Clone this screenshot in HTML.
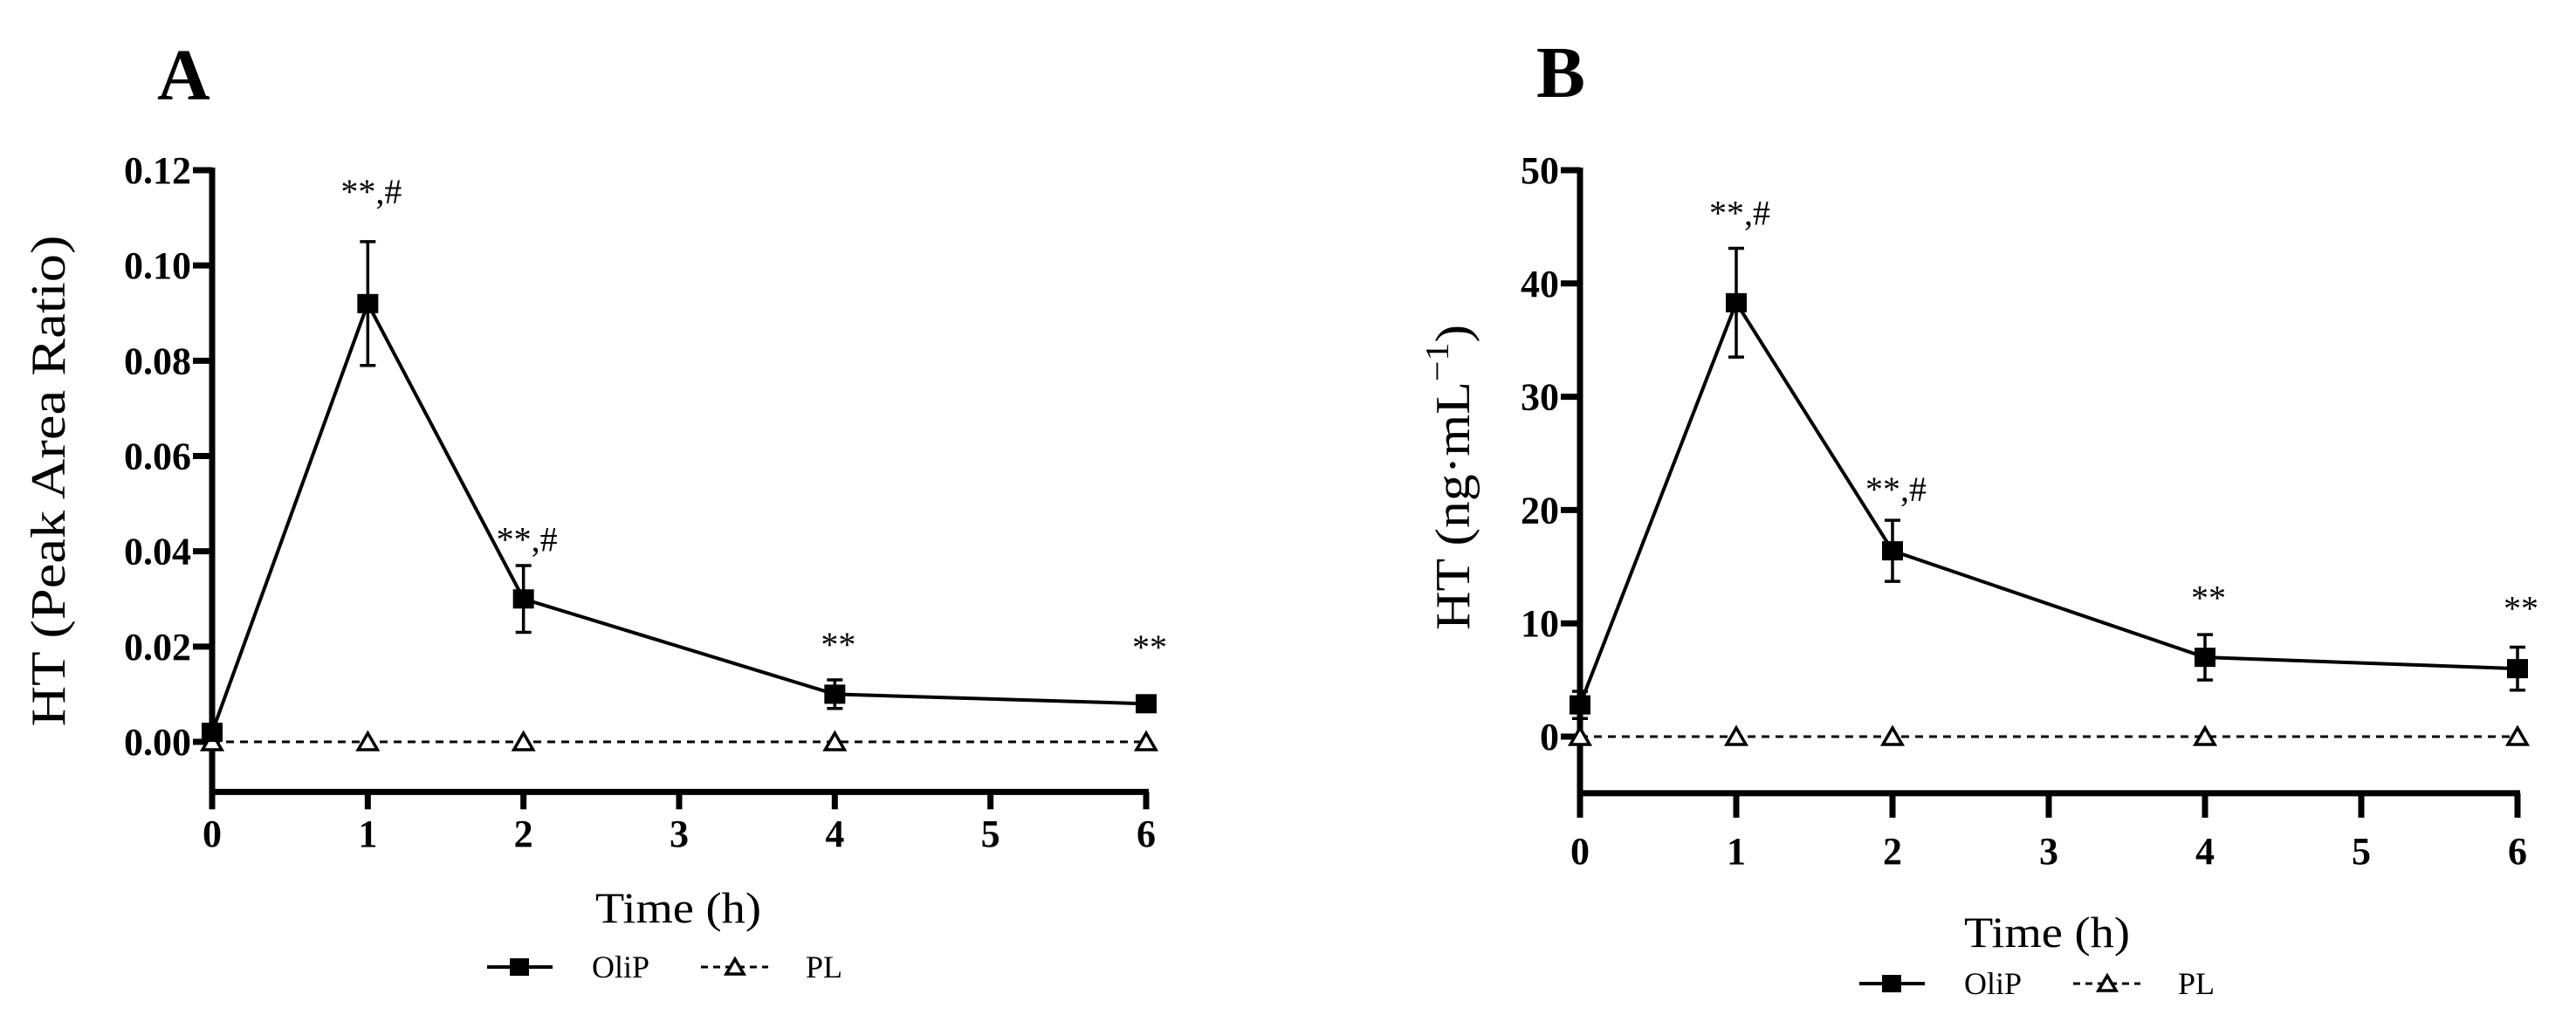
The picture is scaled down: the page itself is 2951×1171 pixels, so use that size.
<!DOCTYPE html>
<html><head><meta charset="utf-8">
<style>
html,body{margin:0;padding:0;background:#fff;}
svg{display:block;}
text{font-family:"Liberation Serif",serif;fill:#000;}
</style></head>
<body>
<svg id="chart" width="2951" height="1171" viewBox="0 0 2951 1171" xmlns="http://www.w3.org/2000/svg"></svg>
<script>
// ---- data ----
const timeCats = [0, 1, 2, 4, 6];
const xTicks = [0, 1, 2, 3, 4, 5, 6];
const oliA = [0.002, 0.092, 0.030, 0.010, 0.008];
const oliAErr = [0.001, 0.013, 0.007, 0.003, 0.0012];
const plA = [0, 0, 0, 0, 0];
const yTicksA = [0, 0.02, 0.04, 0.06, 0.08, 0.10, 0.12];
const yLabelsA = ["0.00", "0.02", "0.04", "0.06", "0.08", "0.10", "0.12"];
const annotA = ["", "**,#", "**,#", "**", "**"];
const annotYA = [0, 0.113, 0.040, 0.018, 0.0174];
const oliB = [2.8, 38.3, 16.4, 7.0, 6.0];
const oliBErr = [1.2, 4.8, 2.7, 2.0, 1.9];
const plB = [0, 0, 0, 0, 0];
const yTicksB = [0, 10, 20, 30, 40, 50];
const yLabelsB = ["0", "10", "20", "30", "40", "50"];
const annotB = ["", "**,#", "**,#", "**", "**"];
const annotYB = [0, 45.2, 20.8, 11.2, 10.3];

const NS = "http://www.w3.org/2000/svg";
const svg = document.getElementById("chart");
function mk(tag, attrs, parent) {
  const e = document.createElementNS(NS, tag);
  for (const k in attrs) e.setAttribute(k, attrs[k]);
  (parent || svg).appendChild(e);
  return e;
}

function panel(cfg) {
  const g = mk("g", {});
  
  
  const xS = v => cfg.x0 + v * (cfg.x1 - cfg.x0) / 6;
  const yS = v => cfg.yZero - v * (cfg.yZero - cfg.yTop) / cfg.yMax;
  const yBot = yS(cfg.yMin);

  const L = mk("text", {x: cfg.letterX, y: cfg.letterY, "font-size": 84, "font-weight": "bold"}, g);
  L.textContent = cfg.letter;
  
  

  const ya = mk("line", {x1: cfg.x0, y1: yS(cfg.yMax) - 3, x2: cfg.x0, y2: yBot + 3, stroke: "#000", "stroke-width": 7}, g);
  
  
  const xa = mk("line", {x1: cfg.x0 - 3, y1: yBot, x2: cfg.x1 + 3, y2: yBot, stroke: "#000", "stroke-width": 7}, g);
  
  

  cfg.yTicks.forEach((v, i) => {
    const y = yS(v);
    const t = mk("line", {x1: cfg.x0 - 22, y1: y, x2: cfg.x0, y2: y, stroke: "#000", "stroke-width": 7}, g);
    
    
    const lb = mk("text", {x: cfg.x0 - 24, y: y + 15, "font-size": 44, "font-weight": "bold", "text-anchor": "end"}, g);
    lb.textContent = cfg.yLabels[i];
    
    
  });
  xTicks.forEach(v => {
    const x = xS(v);
    const t = mk("line", {x1: x, y1: yBot, x2: x, y2: yBot + cfg.tickLen, stroke: "#000", "stroke-width": 7}, g);
    
    
    const lb = mk("text", {x: x, y: cfg.xLabY, "font-size": 44, "font-weight": "bold", "text-anchor": "middle"}, g);
    lb.textContent = String(v);
    
    
  });

  const xt = mk("text", {x: cfg.xTitleX, y: cfg.xTitleY, "font-size": 50, "text-anchor": "middle", textLength: 190, lengthAdjust: "spacingAndGlyphs"}, g);
  xt.textContent = "Time (h)";
  
  
  const yt = mk("text", {x: 0, y: 0, "font-size": 56, "text-anchor": "middle", transform: `translate(${cfg.yTitleX},${cfg.yTitleY}) rotate(-90)`}, g);
  
  
  if (cfg.unitB) {
    yt.setAttribute("textLength", 350);
    yt.setAttribute("lengthAdjust", "spacingAndGlyphs");
    yt.textContent = "HT (ng\u00B7mL";
    const sup = mk("tspan", {dy: -24, "font-size": 38}, yt);
    sup.textContent = "\u22121";
    const cl = mk("tspan", {dy: 24}, yt);
    cl.textContent = ")";
  } else {
    yt.setAttribute("textLength", 563);
    yt.setAttribute("lengthAdjust", "spacingAndGlyphs");
    yt.textContent = "HT (Peak Area Ratio)";
  }

  const plPts = timeCats.map((t, i) => `${xS(t)},${yS(cfg.pl[i])}`).join(" ");
  const pll = mk("polyline", {points: plPts, fill: "none", stroke: "#000", "stroke-width": 3, "stroke-dasharray": "9,7"}, g);
  
  
  timeCats.forEach((t, i) => {
    const x = xS(t), y = yS(cfg.pl[i]);
    const tr = mk("polygon", {points: `${x},${y - 10} ${x - 11},${y + 9} ${x + 11},${y + 9}`, fill: "#fff", stroke: "#000", "stroke-width": 3.5}, g);
    
    
  });

  const oPts = timeCats.map((t, i) => `${xS(t)},${yS(cfg.oli[i])}`).join(" ");
  const ol = mk("polyline", {points: oPts, fill: "none", stroke: "#000", "stroke-width": 4}, g);
  
  
  timeCats.forEach((t, i) => {
    const x = xS(t), y = yS(cfg.oli[i]);
    const yt1 = yS(cfg.oli[i] + cfg.err[i]), yb1 = yS(cfg.oli[i] - cfg.err[i]);
    const eb = mk("path", {d: `M${x},${yt1}V${yb1}M${x - 9},${yt1}H${x + 9}M${x - 9},${yb1}H${x + 9}`, stroke: "#000", "stroke-width": 3.5, fill: "none"}, g);
    
    
    const sq = mk("rect", {x: x - 12, y: y - 11, width: 24, height: 22, fill: "#000"}, g);
    
    
    if (cfg.annot[i]) {
      const an = mk("text", {x: x + 4, y: yS(cfg.annotY[i]), "font-size": 40, "text-anchor": "middle"}, g);
      an.textContent = cfg.annot[i];
      
      
    }
  });

  const lg = mk("g", {}, g);
  
  
  const ly = cfg.legY, lx = cfg.legX;
  mk("line", {x1: lx, y1: ly, x2: lx + 75, y2: ly, stroke: "#000", "stroke-width": 4}, lg);
  mk("rect", {x: lx + 26, y: ly - 10, width: 22, height: 20, fill: "#000"}, lg);
  const t1 = mk("text", {x: lx + 120, y: ly + 12, "font-size": 36}, lg);
  t1.textContent = "OliP";
  
  
  mk("line", {x1: lx + 245, y1: ly, x2: lx + 322, y2: ly, stroke: "#000", "stroke-width": 3, "stroke-dasharray": "8,6"}, lg);
  const tx = lx + 284;
  mk("polygon", {points: `${tx},${ly - 9} ${tx - 10},${ly + 8} ${tx + 10},${ly + 8}`, fill: "#fff", stroke: "#000", "stroke-width": 3.5}, lg);
  const t2 = mk("text", {x: lx + 365, y: ly + 12, "font-size": 36}, lg);
  t2.textContent = "PL";
  
  
}

panel({name: "panel-a", letter: "A", letterX: 180, letterY: 114,
  x0: 243, x1: 1313, yZero: 850, yTop: 195, yMax: 0.12, yMin: -0.0105,
  yTicks: yTicksA, yLabels: yLabelsA, tickLen: 20, xLabY: 970,
  xTitleX: 777, xTitleY: 1057, yTitleX: 74, yTitleY: 551,
  oli: oliA, err: oliAErr, pl: plA, annot: annotA, annotY: annotYA, legX: 558, legY: 1108, unitB: false});

panel({name: "panel-b", letter: "B", letterX: 1760, letterY: 111,
  x0: 1810, x1: 2884, yZero: 844, yTop: 195, yMax: 50, yMin: -5.0,
  yTicks: yTicksB, yLabels: yLabelsB, tickLen: 28, xLabY: 990,
  xTitleX: 2345, xTitleY: 1085, yTitleX: 1683, yTitleY: 547,
  oli: oliB, err: oliBErr, pl: plB, annot: annotB, annotY: annotYB, legX: 2130, legY: 1127, unitB: true});
</script>
</body></html>
